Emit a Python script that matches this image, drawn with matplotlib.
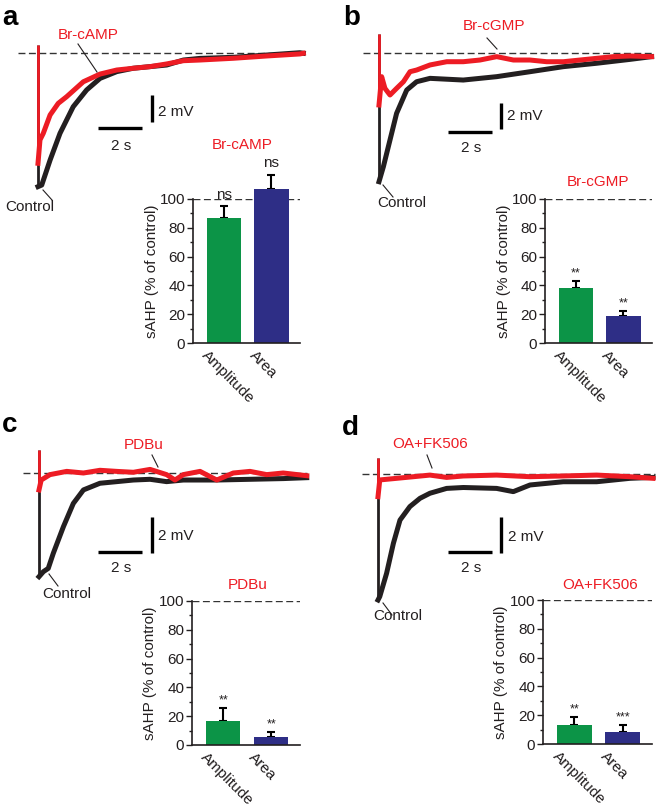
import matplotlib
matplotlib.use('Agg')
import matplotlib.pyplot as plt
from matplotlib.lines import Line2D
from matplotlib.transforms import ScaledTranslation

plt.rcParams['font.family'] = ['Liberation Sans', 'DejaVu Sans']
plt.rcParams['font.size'] = 11

W, H = 656, 807
RED = '#ED1C24'
BLACK = '#231F20'
GREEN = '#0C9447'
BLUE = '#2E2E86'

# ---- traces (time in s, voltage in mV relative to baseline) ----
a_ctrl_t = [0, 0, 0.17, 0.55, 1.0, 1.6, 2.21, 2.82, 3.58, 4.33, 5.85, 6.61, 7.36, 8.88, 10.4, 11.9, 12.06]
a_ctrl_v = [0.6, -9.9, -9.78, -7.93, -5.95, -3.98, -2.74, -1.88, -1.38, -1.13, -0.89, -0.52, -0.40, -0.32, -0.15, 0.02, -0.02]
a_drug_t = [0, 0, 0.09, 0.24, 0.55, 0.92, 1.30, 2.06, 2.82, 3.58, 4.33, 5.09, 5.85, 6.61, 7.36, 8.88, 10.4, 11.9, 12.06]
a_drug_v = [0.6, -8.17, -6.44, -5.95, -4.59, -3.73, -3.24, -2.13, -1.56, -1.26, -1.13, -1.01, -0.81, -0.57, -0.52, -0.39, -0.22, -0.07, -0.02]

b_ctrl_t = [0, 0, 0.2, 0.5, 0.8, 1.26, 1.71, 2.32, 3.83, 5.35, 6.86, 8.38, 9.89, 11.41, 12.39]
b_ctrl_v = [1.5, -9.9, -8.74, -6.69, -4.64, -2.85, -2.21, -1.95, -2.08, -1.82, -1.44, -1.05, -0.79, -0.49, -0.28]
b_drug_t = [0, 0, 0.12, 0.27, 0.5, 0.8, 1.11, 1.41, 1.71, 2.32, 3.08, 3.83, 4.59, 5.35, 6.11, 6.86, 7.62, 8.38, 9.14, 9.89, 10.65, 11.41, 12.39]
b_drug_v = [1.5, -4.0, -1.82, -2.72, -3.23, -2.72, -2.21, -1.44, -1.31, -0.92, -0.67, -0.67, -0.54, -0.28, -0.54, -0.54, -0.67, -0.67, -0.54, -0.41, -0.28, -0.23, -0.28]

c_ctrl_t = [0, 0, 0.2, 0.42, 0.65, 1.11, 1.56, 2.02, 2.77, 3.53, 4.29, 5.05, 5.8, 6.56, 8.08, 9.59, 11.11, 12.17]
c_ctrl_v = [1.28, -5.76, -5.48, -5.3, -4.46, -2.98, -1.69, -0.94, -0.57, -0.48, -0.39, -0.35, -0.48, -0.39, -0.39, -0.35, -0.31, -0.26]
c_drug_t = [0, 0, 0.1, 0.5, 1.26, 2.02, 2.77, 3.53, 4.29, 5.05, 5.8, 6.18, 6.56, 7.32, 8.08, 8.83, 9.59, 10.35, 11.1, 12.17]
c_drug_v = [1.28, -0.94, -0.39, -0.09, 0.09, 0.0, 0.15, 0.09, 0.04, 0.2, -0.09, -0.39, -0.09, 0.09, -0.39, 0.0, 0.09, -0.09, 0.0, -0.15]

d_ctrl_t = [0, 0, 0.08, 0.39, 0.7, 1.0, 1.45, 1.91, 2.36, 3.12, 3.88, 5.39, 6.15, 6.91, 8.42, 9.94, 11.45, 12.5]
d_ctrl_v = [0.87, -7.0, -6.81, -5.52, -3.85, -2.56, -1.81, -1.35, -1.07, -0.8, -0.75, -0.8, -0.98, -0.61, -0.43, -0.43, -0.24, -0.19]
d_drug_t = [0, 0, 0.08, 0.85, 1.61, 2.36, 3.12, 3.88, 5.39, 6.91, 8.42, 9.94, 11.45, 12.5]
d_drug_v = [0.87, -1.26, -0.33, -0.24, -0.15, -0.06, -0.19, -0.11, -0.06, -0.15, -0.11, -0.06, -0.15, -0.24]

drug_names = ['Br-cAMP', 'Br-cGMP', 'PDBu', 'OA+FK506']

# ---- summary bars (% of control) ----
bar_labels = ['Amplitude', 'Area']
a_mean = [87, 107]; a_err = [8, 10]; a_sig = ['ns', 'ns']
b_mean = [38, 19]; b_err = [5, 3]; b_sig = ['**', '**']
c_mean = [17, 5.5]; c_err = [9, 3.5]; c_sig = ['**', '**']
d_mean = [13, 8.5]; d_err = [6, 4.5]; d_sig = ['**', '***']

fig = plt.figure(figsize=(W / 100, H / 100), dpi=100)


def box(l, t, r, b):
    return [l / W, 1 - b / H, (r - l) / W, (b - t) / H]


def ftext(x, y, s, **kw):
    fig.text(x / W, 1 - y / H, s, **kw)


def pointer(x1, y1, x2, y2):
    fig.add_artist(Line2D([x1 / W, x2 / W], [1 - y1 / H, 1 - y2 / H],
                          transform=fig.transFigure, color=BLACK, lw=0.8))


def trace_panel(pos, ctrl_t, ctrl_v, drug_t, drug_v, base, bars):
    l, t, r, b, x0, y0, sx, sy = pos
    ax = fig.add_axes(box(l, t, r, b))
    ax.set_xlim((l - x0) / sx, (r - x0) / sx)
    ax.set_ylim(-(b - y0) / sy, -(t - y0) / sy)
    ax.axis('off')
    ax.plot(base, [0, 0], color='#333333', lw=1, dashes=(5, 2.5), zorder=1)
    # stimulus artefact thin, recording thicker (noise band)
    ax.plot(ctrl_t[:2], ctrl_v[:2], color=BLACK, lw=2, zorder=2, solid_capstyle='butt')
    ax.plot(ctrl_t[1:], ctrl_v[1:], color=BLACK, lw=3.6, zorder=2, solid_joinstyle='round')
    ax.plot(drug_t[:2], drug_v[:2], color=RED, lw=2, zorder=3, solid_capstyle='butt')
    ax.plot(drug_t[1:], drug_v[1:], color=RED, lw=3.6, zorder=3, solid_joinstyle='round')
    hx, hy, vx, vy = bars
    ax.plot([hx, hx + 2], [hy, hy], color='black', lw=2.4, solid_capstyle='butt')
    ax.plot([vx, vx], [vy, vy - 2], color='black', lw=2.4, solid_capstyle='butt')
    return ax


def bar_panel(pos, mean, err, sig, title_xy, title):
    ax = fig.add_axes(box(*pos))
    x = [0, 1]
    ax.bar(x, mean, width=0.72, color=[GREEN, BLUE], clip_on=False, zorder=2)
    ax.errorbar(x, mean, yerr=[[0, 0], err], fmt='none', ecolor='black',
                elinewidth=1.5, capsize=3, capthick=1.5, clip_on=False, zorder=1)
    for xi, m, e, s in zip(x, mean, err, sig):
        if s == 'ns':
            ax.text(xi, m + e + 3, s, ha='center', va='bottom', fontsize=11, color=BLACK)
        else:
            ax.text(xi, m + e + 1, s, ha='center', va='bottom', fontsize=9, color=BLACK)
    ax.axhline(100, color='#333333', lw=1, dashes=(5, 2.5), zorder=0)
    ax.set_xlim(-0.65, 1.6)
    ax.set_ylim(0, 100)
    ax.set_yticks([0, 20, 40, 60, 80, 100])
    ax.set_yticks(range(0, 101, 10), minor=True)
    ax.tick_params(axis='y', which='major', length=4, width=1, colors=BLACK, labelsize=11, pad=1.5)
    ax.tick_params(axis='y', which='minor', length=2.5, width=1, colors=BLACK)
    ax.set_xticks(x)
    ax.set_xticklabels(bar_labels, rotation=-45, ha='left', va='top',
                       rotation_mode='anchor', fontsize=11, color=BLACK)
    ax.tick_params(axis='x', length=0, pad=4)
    for lab in ax.get_xticklabels():
        lab.set_transform(lab.get_transform() + ScaledTranslation(-0.15, 0, fig.dpi_scale_trans))
    for side in ['top', 'right']:
        ax.spines[side].set_visible(False)
    for side in ['left', 'bottom']:
        ax.spines[side].set_linewidth(1.2)
        ax.spines[side].set_color(BLACK)
    ax.patch.set_alpha(0)
    ax.set_ylabel('sAHP (% of control)', fontsize=11, color=BLACK)
    ax.yaxis.set_label_coords(-0.32, 0.5)
    ftext(title_xy[0], title_xy[1], title, color=RED, ha='center', va='center', fontsize=11)
    return ax


# panel a
trace_panel((0, 0, 328, 215, 38, 53, 22, 13.5), a_ctrl_t, a_ctrl_v, a_drug_t, a_drug_v,
            [-0.91, 12.1], (2.73, -5.56, 5.18, -3.11))
ftext(88, 35, drug_names[0], color=RED, ha='center', va='center')
pointer(78, 44, 97, 72)
ftext(30, 207, 'Control', color=BLACK, ha='center', va='center')
pointer(43, 190, 52, 200)
ftext(158, 112, '2 mV', color=BLACK, ha='left', va='center')
ftext(121, 146, '2 s', color=BLACK, ha='center', va='center')
bar_panel((193, 199, 300, 343), a_mean, a_err, a_sig, (242, 145), drug_names[0])

# panel b
trace_panel((330, 0, 656, 215, 379, 53, 22, 13), b_ctrl_t, b_ctrl_v, b_drug_t, b_drug_v,
            [-0.73, 12.45], (3.14, -6.08, 5.55, -3.85))
ftext(494, 26, drug_names[1], color=RED, ha='center', va='center')
pointer(487, 38, 497, 49)
ftext(402, 203, 'Control', color=BLACK, ha='center', va='center')
pointer(383, 185, 393, 197)
ftext(507, 116, '2 mV', color=BLACK, ha='left', va='center')
ftext(471, 148, '2 s', color=BLACK, ha='center', va='center')
bar_panel((545, 199, 652, 343), b_mean, b_err, b_sig, (598, 182), drug_names[1])

# panel c
trace_panel((0, 400, 328, 620, 39, 473, 22, 18), c_ctrl_t, c_ctrl_v, c_drug_t, c_drug_v,
            [-0.73, 12.2], (2.68, -4.39, 5.14, -2.44))
ftext(144, 445, drug_names[2], color=RED, ha='center', va='center')
pointer(152, 455, 158, 467)
ftext(67, 594, 'Control', color=BLACK, ha='center', va='center')
pointer(49, 574, 58, 586)
ftext(158, 536, '2 mV', color=BLACK, ha='left', va='center')
ftext(121, 568, '2 s', color=BLACK, ha='center', va='center')
bar_panel((192, 601, 300, 745), c_mean, c_err, c_sig, (248, 585), drug_names[2])

# panel d
trace_panel((330, 400, 656, 625, 378, 474, 22, 18), d_ctrl_t, d_ctrl_v, d_drug_t, d_drug_v,
            [-0.73, 12.6], (3.18, -4.33, 5.59, -2.39))
ftext(430, 444, drug_names[3], color=RED, ha='center', va='center')
pointer(427, 455, 432, 468)
ftext(398, 616, 'Control', color=BLACK, ha='center', va='center')
pointer(383, 603, 392, 615)
ftext(508, 537, '2 mV', color=BLACK, ha='left', va='center')
ftext(471, 568, '2 s', color=BLACK, ha='center', va='center')
bar_panel((543, 600, 652, 744), d_mean, d_err, d_sig, (600, 585), drug_names[3])

# panel letters
for letter, (lx, ly) in zip('abcd', [(2, 25), (343, 25), (2, 432), (342, 435)]):
    ftext(lx, ly, letter, fontsize=20, fontweight='bold', ha='left', va='baseline', color='black')

fig.savefig('out.png', dpi=100)
